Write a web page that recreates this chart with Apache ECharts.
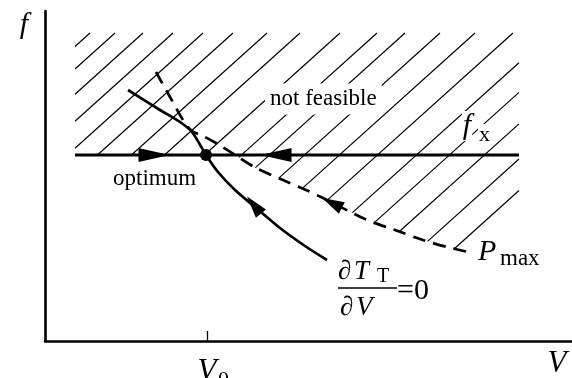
<!DOCTYPE html>
<html>
<head>
<meta charset="utf-8">
<script src="https://cdn.jsdelivr.net/npm/echarts@6/dist/echarts.min.js"></script>
<style>
  html, body { margin: 0; padding: 0; background: #fff; }
  #chart { width: 572px; height: 378px; }
</style>
</head>
<body>
<div id="chart"></div>
<script>
// Speed / frequency sketch: optimum sits on the f = f_x limit

// plot units: V to the right, f upward
const vRange = [0, 527];
const fRange = [0, 330];

const fxLevel = 186;
const fxSpan = [30, 474];
const optimum = [161, 186];

// dT_T/dV = 0 curve
const dTdVCurve = [[83, 251], [115, 231], [135, 219], [147, 209], [161, 186], [173, 169],
                   [190, 151], [210, 134], [235, 113], [260, 95], [282, 81]];

// P = P_max curve (dashed)
const pmaxCurve = [[111, 269], [125, 244], [138, 221], [147, 210], [158, 205], [171, 198],
                   [190, 186], [211, 173], [238, 161], [261, 151], [278, 143], [322, 121],
                   [350, 111], [378, 101], [402, 94], [428, 88]];

// not feasible region borders
const regionTop = 308;
const regionRight = 474;
const regionRightFoot = 128;

// hatch lines, given by where they meet the top border
const hatchTops = [45, 70, 98, 128, 158, 188, 222, 255, 295, 332, 360, 395, 430, 468,
                   507, 540, 575, 614, 649, 683];
const hatchSlope = 0.9;

// arrow heads: [V, f, direction in degrees]
const fxArrows = [[109, 186, -90], [231, 186, 90]];
const curveArrows = [[209, 136, 39], [287, 138, 63]];

const region = [[fxSpan[0], regionTop], [regionRight, regionTop], [regionRight, regionRightFoot]]
    .concat(pmaxCurve.filter(p => p[0] >= 190).slice().reverse())
    .concat([[fxSpan[0], fxLevel]]);

function hatchPieces(top) {
    const a = [top + 200, regionTop + 200 * hatchSlope];
    const d = [-1, -hatchSlope];
    const ts = [];
    for (let i = 0; i < region.length; i++) {
        const p = region[i], q = region[(i + 1) % region.length];
        const e = [q[0] - p[0], q[1] - p[1]];
        const den = d[0] * e[1] - d[1] * e[0];
        if (Math.abs(den) < 1e-9) continue;
        const w = [p[0] - a[0], p[1] - a[1]];
        const t = (w[0] * e[1] - w[1] * e[0]) / den;
        const u = (w[0] * d[1] - w[1] * d[0]) / den;
        if (u >= 0 && u < 1 && t > 0) ts.push(t);
    }
    ts.sort((x, y) => x - y);
    const pieces = [];
    for (let i = 0; i + 1 < ts.length; i += 2) {
        pieces.push([[a[0] + ts[i] * d[0], a[1] + ts[i] * d[1]],
                     [a[0] + ts[i + 1] * d[0], a[1] + ts[i + 1] * d[1]]]);
    }
    return pieces;
}

const serif = '"Liberation Serif", "DejaVu Serif", serif';

function txt(text, x, y, size, italic, extra) {
    return {
        type: 'text',
        z: 100,
        style: Object.assign({
            text: text,
            x: x,
            y: y,
            font: (italic ? 'italic ' : '') + size + 'px ' + serif,
            fill: '#000',
            textAlign: 'left',
            textVerticalAlign: 'middle'
        }, extra || {})
    };
}

const chart = echarts.init(document.getElementById('chart'));

chart.setOption({
    animation: false,
    backgroundColor: '#fff',
    grid: { left: 45, right: 0, top: 11, bottom: 37 },
    xAxis: {
        type: 'value',
        min: vRange[0],
        max: vRange[1],
        axisLine: { show: true, lineStyle: { color: '#000', width: 2.6 } },
        axisTick: { show: true, inside: true, length: 10, customValues: [optimum[0] + 1],
                    lineStyle: { color: '#000', width: 1.3 } },
        axisLabel: { show: false },
        splitLine: { show: false }
    },
    yAxis: {
        type: 'value',
        min: fRange[0],
        max: fRange[1],
        axisLine: { show: true, lineStyle: { color: '#000', width: 2.6 } },
        axisTick: { show: false },
        axisLabel: { show: false },
        splitLine: { show: false }
    },
    series: [
        {
            type: 'custom',
            silent: true,
            z: 1,
            data: hatchTops.map(v => [v, regionTop]),
            renderItem: function (params, api) {
                const children = hatchPieces(api.value(0)).map(seg => {
                    const p0 = api.coord(seg[0]);
                    const p1 = api.coord(seg[1]);
                    return {
                        type: 'line',
                        shape: { x1: p0[0], y1: p0[1], x2: p1[0], y2: p1[1] },
                        style: { stroke: '#000', lineWidth: 1.2 }
                    };
                });
                return { type: 'group', children: children };
            }
        },
        {
            type: 'line',
            silent: true,
            z: 3,
            showSymbol: false,
            data: [[fxSpan[0], fxLevel], [fxSpan[1], fxLevel]],
            lineStyle: { color: '#000', width: 2.8 }
        },
        {
            type: 'line',
            silent: true,
            z: 3,
            showSymbol: false,
            smooth: 0.3,
            data: dTdVCurve,
            lineStyle: { color: '#000', width: 2.7 }
        },
        {
            type: 'line',
            silent: true,
            z: 3,
            showSymbol: false,
            smooth: 0.3,
            data: pmaxCurve,
            lineStyle: { color: '#000', width: 2.7, type: [13, 8] }
        },
        {
            type: 'scatter',
            silent: true,
            z: 4,
            symbol: 'circle',
            symbolSize: 12,
            data: [optimum],
            itemStyle: { color: '#000', opacity: 1 }
        },
        {
            type: 'scatter',
            silent: true,
            z: 4,
            symbol: 'triangle',
            symbolSize: [14, 31],
            symbolRotate: function (val) { return val[2]; },
            data: fxArrows,
            itemStyle: { color: '#000', opacity: 1 }
        },
        {
            type: 'scatter',
            silent: true,
            z: 4,
            symbol: 'triangle',
            symbolSize: [13, 22],
            symbolRotate: function (val) { return val[2]; },
            data: curveArrows,
            itemStyle: { color: '#000', opacity: 1 }
        }
    ],
    graphic: [
        txt('f', 24, 25, 30, true, { textAlign: 'center' }),
        txt('not feasible', 265, 99, 23, false, { backgroundColor: '#fff', padding: [4, 5] }),
        txt('optimum', 113, 179, 23, false),
        txt('f', 467, 126, 30, true, { textAlign: 'center', backgroundColor: '#fff', padding: [0, 1] }),
        txt('x', 478, 135, 22, false, { backgroundColor: '#fff', padding: [0, 1] }),
        txt('P', 478, 252, 30, true),
        txt('max', 500, 259, 23, false),
        txt('\u2202', 338, 272, 27, false),
        txt('T', 354, 272, 27, true),
        txt('T', 377, 277, 20, false),
        { type: 'line', z: 100, shape: { x1: 338, y1: 288, x2: 397, y2: 288 },
          style: { stroke: '#000', lineWidth: 1.5 } },
        txt('\u2202', 340, 308, 27, false),
        txt('V', 356, 308, 27, true),
        txt('=0', 397, 291, 30, false),
        txt('V', 557, 364, 31, true, { textAlign: 'center' }),
        txt('V', 207, 372, 31, true, { textAlign: 'center' }),
        txt('0', 218, 380, 22, false)
    ]
});
</script>
</body>
</html>
